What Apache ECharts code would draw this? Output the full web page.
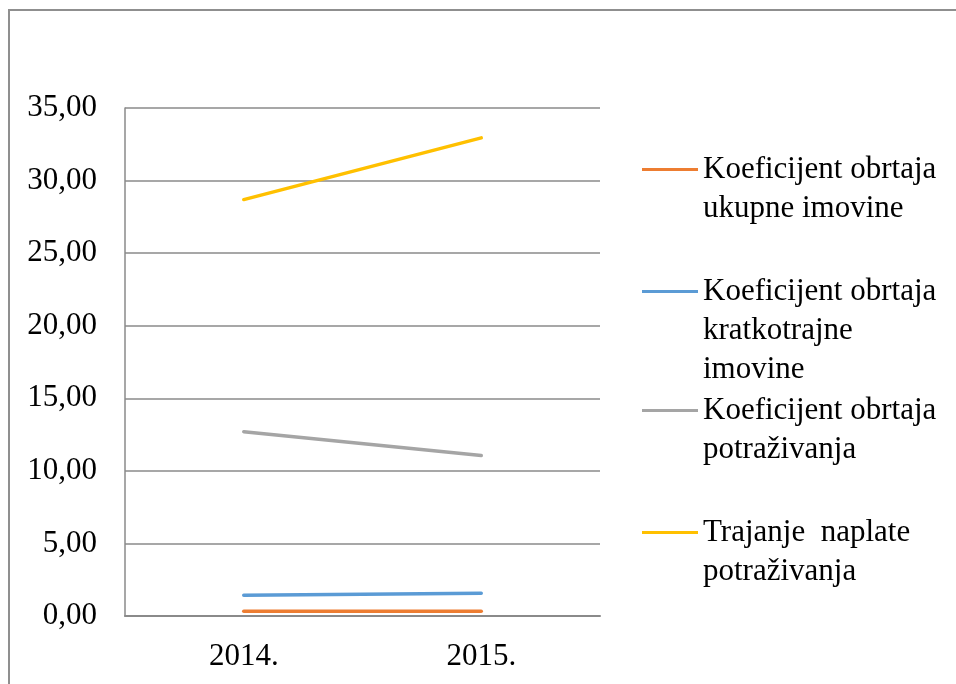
<!DOCTYPE html>
<html lang="sr">
<head>
  <meta charset="UTF-8">
  <title>Koeficijenti obrta</title>
  <script src="https://cdn.jsdelivr.net/npm/echarts@6/dist/echarts.min.js"></script>
  <style>
    html, body { margin: 0; padding: 0; background: #fff; }
    #chart { width: 956px; height: 684px; }
  </style>
</head>
<body>
<div id="chart"></div>
<script>
// kategorije (godine)
const years = ['2014.', '2015.'];
// serije
const names = [
  'Koeficijent obrtaja\nukupne imovine',
  'Koeficijent obrtaja\nkratkotrajne\nimovine',
  'Koeficijent obrtaja\npotraživanja',
  'Trajanje  naplate\npotraživanja'
];
const ukupnaImovina = [0.32, 0.32];
const kratkotrajnaImovina = [1.43, 1.57];
const potrazivanja = [12.70, 11.06];
const trajanjeNaplate = [28.69, 32.94];
const colors = ['#ED7D31', '#5B9BD5', '#A5A5A5', '#FFC000'];
const legendTops = [111, 194, 352, 474];

const font = '"Liberation Serif", "Times New Roman", serif';
const values = [ukupnaImovina, kratkotrajnaImovina, potrazivanja, trajanjeNaplate];

let chart = echarts.init(document.getElementById('chart'));

// ikona legende poravnata s prvim redom: dodaju se prazni redovi iznad
let legends = names.map((n, i) => {
  let lines = n.split('\n').length;
  return {
    left: 642,
    top: legendTops[i],
    padding: 0,
    itemWidth: 56,
    itemHeight: 14,
    selectedMode: false,
    data: [{ name: n, icon: 'path://M0,6 L56,6 L56,9 L0,9 Z' }],
    formatter: name => '\n'.repeat(lines - 1) + name,
    textStyle: { fontFamily: font, fontSize: 31, lineHeight: 39, color: '#000' }
  };
});

chart.setOption({
  animation: false,
  graphic: [{
    type: 'rect',
    shape: { x: 9, y: 10, width: 1000, height: 1000 },
    style: { fill: 'none', stroke: '#8f8f8f', lineWidth: 2 },
    silent: true
  }],
  legend: legends,
  grid: { left: 125, right: 356, top: 108, bottom: 68 },
  xAxis: {
    type: 'category',
    data: years,
    boundaryGap: true,
    axisLine: { lineStyle: { color: '#8a8a8a', width: 2 } },
    axisTick: { show: false },
    axisLabel: { fontFamily: font, fontSize: 31, color: '#000', margin: 25 }
  },
  yAxis: {
    type: 'value',
    min: 0, max: 35, interval: 5,
    axisLine: { show: true, lineStyle: { color: '#8a8a8a', width: 1.5 } },
    axisTick: { show: false },
    splitLine: { lineStyle: { color: '#8a8a8a', width: 1.5 } },
    axisLabel: {
      fontFamily: font, fontSize: 31, color: '#000', margin: 28,
      formatter: v => v.toFixed(2).replace('.', ',')
    }
  },
  series: names.map((n, i) => ({
    name: n,
    type: 'line',
    data: values[i],
    symbol: 'none',
    color: colors[i],
    lineStyle: { color: colors[i], width: 3.5, cap: 'round' }
  }))
});
</script>
</body>
</html>
